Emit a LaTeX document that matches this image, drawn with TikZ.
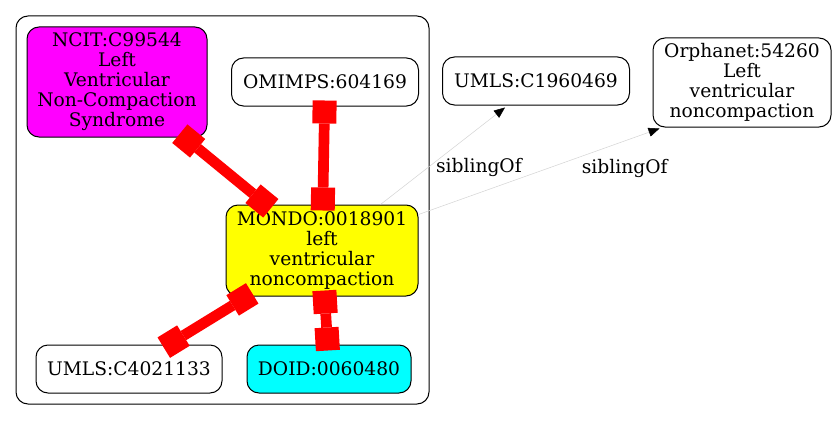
\documentclass[tikz,border=0pt]{standalone}
\usepackage{fontspec}
\setmainfont{DejaVu Serif}
\usetikzlibrary{positioning}
\usetikzlibrary{arrows.meta}

\definecolor{ncitfill}{RGB}{255,0,255}
\definecolor{mondofill}{RGB}{255,255,0}
\definecolor{doidfill}{RGB}{0,255,255}
\definecolor{xrefred}{RGB}{255,0,0}
\definecolor{sibgray}{RGB}{211,211,211}

\begin{document}
\begin{tikzpicture}[x=1pt,y=-1pt,font=\fontsize{18.67}{20}\selectfont,
		term node/.style={rectangle,rounded corners=12pt,draw,line width=1pt,align=center,inner sep=0pt,minimum height=48pt},
		xref/.style={xrefred,line width=10.7pt,shorten <=-6pt,shorten >=-6pt,
			{Rectangle[length=23pt,width=24pt,line width=0pt]}-{Rectangle[length=23pt,width=24pt,line width=0pt]}},
		sib/.style={sibgray,line width=0.5pt,-{Triangle[length=11pt,width=9pt,color=black,fill=black]}}]
		
		\useasboundingbox (0,0) rectangle (837,420);
		\draw[line width=1pt,rounded corners=12pt] (16,16) rectangle (429,404);
		
		\node[term node, fill=ncitfill, minimum width=180pt, minimum height=110pt] (ncit) at (117,82) {NCIT:C99544\\Left\\Ventricular\\Non-Compaction\\Syndrome};
		\node[term node, minimum width=187pt] (omimps) at (325,82) {OMIMPS:604169};
		\node[term node, fill=mondofill, minimum width=192pt, minimum height=91pt] (mondo) at (322,250.5) {MONDO:0018901\\left\\ventricular\\noncompaction};
		\node[term node, minimum width=186pt] (umlsa) at (129,369) {UMLS:C4021133};
		\node[term node, fill=doidfill, minimum width=164pt] (doid) at (329,369) {DOID:0060480};
		\node[term node, minimum width=187pt] (umlsb) at (536,81) {UMLS:C1960469};
		\node[term node, minimum width=178pt, minimum height=89pt] (orph) at (742,82.5) {Orphanet:54260\\Left\\ventricular\\noncompaction};
		
		\path[xref]
		(ncit) edge (mondo)
		(omimps) edge (mondo)
		(mondo) edge (umlsa)
		(mondo) edge (doid);
		
		\path[sib,every node/.style={inner sep=0pt,text=black}]
		([xshift=-38pt]mondo.north east) edge node [pos=0.38,right=8pt] {siblingOf} ([xshift=-31pt,yshift=-2pt]umlsb.south)
		([yshift=-10pt]mondo.north east) edge node [pos=0.54,right=33pt] {siblingOf} ([xshift=7pt,yshift=-1pt]orph.south west);
\end{tikzpicture}
\end{document}
